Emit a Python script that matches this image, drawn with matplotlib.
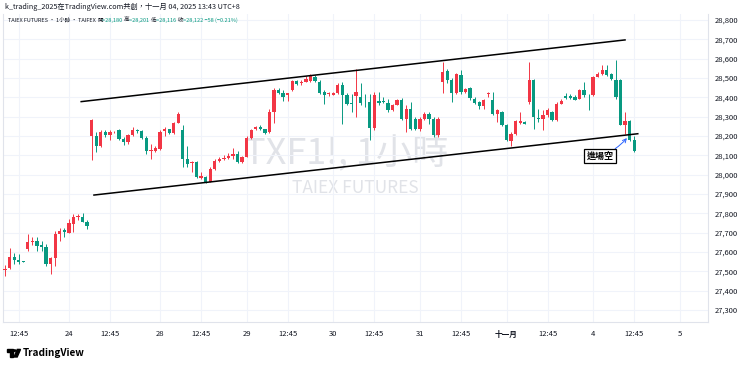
import matplotlib
matplotlib.use("Agg")
import matplotlib.pyplot as plt
from matplotlib.patches import Rectangle, Circle, Polygon
from matplotlib.ticker import FuncFormatter, MultipleLocator

plt.rcParams['font.family'] = ['Noto Sans CJK TC', 'DejaVu Sans']

# Bougies 1h TXF1!
opens = [27505, 27518, 27575, 27560, 27552, 27615, 27650, 27655, 27635, 27628,
         27537, 27568, 27696, 27712, 27701, 27745, 27780, 27783, 27757,
         28200, 28200, 28151, 28221, 28207, 28219, 28233, 28186, 28170, 28203,
         28229, 28224, 28191, 28122, 28122, 28134, 28224, 28234, 28215, 28267,
         28232, 28082, 28060, 28065, 27985, 27987, 27961, 28030, 28073, 28080,
         28088, 28095, 28107, 28065, 28091, 28191, 28234, 28245, 28234, 28221,
         28324, 28440, 28424, 28412, 28440, 28485, 28472, 28482, 28485, 28505,
         28480, 28428, 28415, 28414, 28425, 28466, 28414, 28370, 28406, 28402,
         28376, 28376, 28243, 28380, 28383, 28371, 28333, 28362, 28388, 28290,
         28342, 28290, 28238, 28290, 28316, 28290, 28203, 28480, 28537, 28489,
         28423, 28515, 28428, 28446, 28394, 28376, 28354, 28416, 28385, 28312,
         28324, 28255, 28177, 28212, 28268, 28272, 28376, 28492, 28293, 28290,
         28307, 28324, 28281, 28368, 28407, 28407, 28402, 28394, 28440, 28419,
         28411, 28506, 28520, 28540, 28520, 28492, 28492, 28255, 28278, 28180]
highs = [27533, 27623, 27597, 27590, 27555, 27693, 27680, 27680, 27655, 27640,
         27575, 27710, 27725, 27725, 27770, 27795, 27795, 27800, 27765,
         28290, 28221, 28230, 28232, 28230, 28224, 28238, 28195, 28210, 28245,
         28234, 28232, 28198, 28160, 28150, 28230, 28247, 28238, 28275, 28325,
         28255, 28151, 28073, 28073, 28013, 27995, 28040, 28080, 28090, 28100,
         28110, 28136, 28125, 28096, 28198, 28238, 28250, 28255, 28238, 28342,
         28446, 28446, 28436, 28425, 28492, 28492, 28488, 28510, 28520, 28515,
         28489, 28440, 28430, 28428, 28475, 28480, 28425, 28420, 28549, 28475,
         28418, 28420, 28428, 28428, 28400, 28393, 28365, 28394, 28398, 28359,
         28376, 28300, 28298, 28325, 28325, 28298, 28298, 28584, 28549, 28498,
         28524, 28540, 28446, 28454, 28400, 28380, 28393, 28428, 28428, 28342,
         28330, 28262, 28220, 28281, 28324, 28278, 28584, 28497, 28342, 28333,
         28347, 28330, 28376, 28393, 28423, 28418, 28410, 28445, 28480, 28420,
         28509, 28532, 28566, 28566, 28524, 28592, 28497, 28324, 28285, 28201]
lows = [27478, 27513, 27539, 27540, 27547, 27606, 27635, 27607, 27605, 27530,
        27488, 27530, 27660, 27680, 27700, 27706, 27765, 27755, 27722,
        28077, 28117, 28145, 28193, 28180, 28216, 28181, 28152, 28160, 28198,
        28215, 28186, 28108, 28080, 28120, 28130, 28200, 28210, 28210, 28265,
        28039, 28039, 28013, 27982, 27978, 27955, 27961, 28025, 28068, 28075,
        28082, 28080, 28060, 28060, 28091, 28187, 28230, 28233, 28210, 28215,
        28265, 28420, 28380, 28380, 28435, 28465, 28463, 28477, 28482, 28480,
        28420, 28368, 28408, 28410, 28420, 28264, 28359, 28324, 28298, 28359,
        28350, 28181, 28230, 28360, 28370, 28325, 28328, 28358, 28283, 28220,
        28230, 28230, 28228, 28283, 28262, 28196, 28196, 28423, 28472, 28377,
        28418, 28420, 28424, 28384, 28368, 28342, 28342, 28402, 28307, 28272,
        28250, 28177, 28151, 28208, 28264, 28260, 28368, 28238, 28272, 28229,
        28298, 28278, 28278, 28365, 28394, 28392, 28385, 28390, 28402, 28333,
        28408, 28504, 28518, 28509, 28492, 28393, 28255, 28212, 28174, 28116]
closes = [27515, 27575, 27558, 27550, 27549, 27650, 27655, 27632, 27625, 27537,
          27572, 27696, 27710, 27702, 27748, 27783, 27787, 27758, 27736,
          28283, 28151, 28221, 28207, 28221, 28222, 28186, 28168, 28203, 28229,
          28225, 28191, 28122, 28129, 28139, 28221, 28234, 28218, 28267, 28316,
          28082, 28056, 28066, 27987, 27992, 27961, 28030, 28073, 28083, 28088,
          28098, 28107, 28065, 28091, 28191, 28232, 28245, 28238, 28215, 28324,
          28440, 28423, 28402, 28421, 28485, 28470, 28480, 28497, 28509, 28483,
          28425, 28411, 28421, 28425, 28466, 28411, 28368, 28364, 28428, 28371,
          28374, 28243, 28410, 28373, 28376, 28333, 28362, 28388, 28290, 28342,
          28238, 28238, 28290, 28316, 28290, 28203, 28290, 28532, 28489, 28423,
          28520, 28428, 28441, 28399, 28371, 28354, 28385, 28423, 28312, 28333,
          28255, 28181, 28212, 28278, 28278, 28264, 28489, 28298, 28286, 28307,
          28336, 28281, 28368, 28381, 28397, 28399, 28388, 28440, 28411, 28416,
          28506, 28520, 28540, 28515, 28497, 28402, 28255, 28278, 28181, 28122]

tick_pos = [3, 14, 23, 34, 43, 53, 62, 72, 81, 91, 100, 110, 119, 129, 138, 148]
tick_labels = ['12:45', '24', '12:45', '28', '12:45', '29', '12:45', '30',
               '12:45', '31', '12:45', '十一月', '12:45', '4', '12:45', '5']

# canal tracé à la main (indice de barre, prix)
upper_x = [16.7, 136.0]
upper_y = [28378, 28697]
lower_x = [19.5, 138.8]
lower_y = [27895, 28212]

signal_label = '進場空'
signal_tip = (136.6, 28195)
signal_box = (130.5, 28097)

UP = '#F23645'
DOWN = '#089981'
TXT = '#131722'

W, H = 740, 367
fig = plt.figure(figsize=(W / 100, H / 100), dpi=100)
ax = fig.add_axes([3 / W, 1 - 322 / H, 705 / W, 308 / H])

n = len(closes)
for i in range(n):
    o, h, l, c = opens[i], highs[i], lows[i], closes[i]
    col = UP if c >= o else DOWN
    ax.vlines(i, l, h, color=col, lw=0.7, zorder=2)
    ax.bar(i, max(abs(c - o), 3), bottom=min(o, c), width=0.72,
           color=col, linewidth=0, zorder=3)

ax.plot(upper_x, upper_y, color='black', lw=1.1, zorder=4)
ax.plot(lower_x, lower_y, color='black', lw=1.1, zorder=4)

ax.annotate(signal_label, xy=signal_tip, xytext=signal_box,
            fontsize=6.5, fontweight='bold', color='black', ha='center', va='center',
            bbox=dict(boxstyle='square,pad=0.25', fc='white', ec='black', lw=0.9),
            arrowprops=dict(arrowstyle='->', color='#2962FF', lw=0.7,
                            connectionstyle='arc3,rad=0.15', shrinkA=0, shrinkB=1),
            zorder=6)

# filigrane
ax.text(0.486, 0.545, 'TXF1!, 1小時', transform=ax.transAxes, fontsize=26,
        color='#E1E3E8', ha='center', va='center', zorder=0)
ax.text(0.50, 0.435, 'TAIEX FUTURES', transform=ax.transAxes, fontsize=12.5,
        color='#E1E3E8', ha='center', va='center', zorder=0)

ax.set_xlim(-0.45, 154.2)
ax.set_ylim(28800 - 302 * 5.17, 28800 + 6 * 5.17)
ax.yaxis.set_major_locator(MultipleLocator(100))
ax.yaxis.set_major_formatter(FuncFormatter(lambda v, p: f'{v:,.0f}'))
ax.yaxis.tick_right()
ax.set_xticks(tick_pos)
ax.set_xticklabels(tick_labels)
for lab in ax.get_xticklabels():
    if lab.get_text() == '十一月':
        lab.set_fontweight('bold')
ax.tick_params(axis='both', length=0, labelsize=5.5, colors=TXT)
ax.tick_params(axis='y', pad=5)
ax.tick_params(axis='x', pad=6)
ax.grid(True, color='#F0F3FA', lw=0.8, zorder=0)
ax.set_axisbelow(True)
for s in ax.spines.values():
    s.set_color('#E0E3EB')
    s.set_linewidth(0.8)
ax.spines['top'].set_visible(False)


def ligne_coloree(x, y, morceaux, size):
    r = fig.canvas.get_renderer()
    for txt, col in morceaux:
        t = fig.text(x / W, 1 - y / H, txt, color=col, fontsize=size,
                     ha='left', va='center')
        x += t.get_window_extent(renderer=r).width


ligne_coloree(5, 7, [('k_trading_2025在TradingView.com共創，十一月 04, 2025 13:43 UTC+8', TXT)], 5.2)
ligne_coloree(8, 20, [('TAIEX FUTURES · 1小時 · TAIFEX ', TXT),
                      ('開', TXT), ('=28,180 ', DOWN),
                      ('高', TXT), ('=28,201 ', DOWN),
                      ('低', TXT), ('=28,116 ', DOWN),
                      ('收', TXT), ('=28,122 −58 (−0.21%)', DOWN)], 4.0)

# logo TradingView
fig.patches.append(Rectangle((7 / W, 1 - 352 / H), 5.5 / W, 2.6 / H, color='black', transform=fig.transFigure))
fig.patches.append(Rectangle((9.6 / W, 1 - 357 / H), 2.9 / W, 6 / H, color='black', transform=fig.transFigure))
fig.patches.append(Circle((14.6 / W, 1 - 350.6 / H), 1.4 / W, color='black', transform=fig.transFigure))
fig.patches.append(Polygon([(14 / W, 1 - 357 / H), (17.2 / W, 1 - 357 / H),
                            (20.5 / W, 1 - 349.4 / H), (17.3 / W, 1 - 349.4 / H)],
                           color='black', transform=fig.transFigure))
fig.text(23 / W, 1 - 352.5 / H, 'TradingView', fontsize=7.2, fontweight='bold',
         color='black', ha='left', va='center')

fig.savefig('out.png', dpi=100, facecolor='white')
